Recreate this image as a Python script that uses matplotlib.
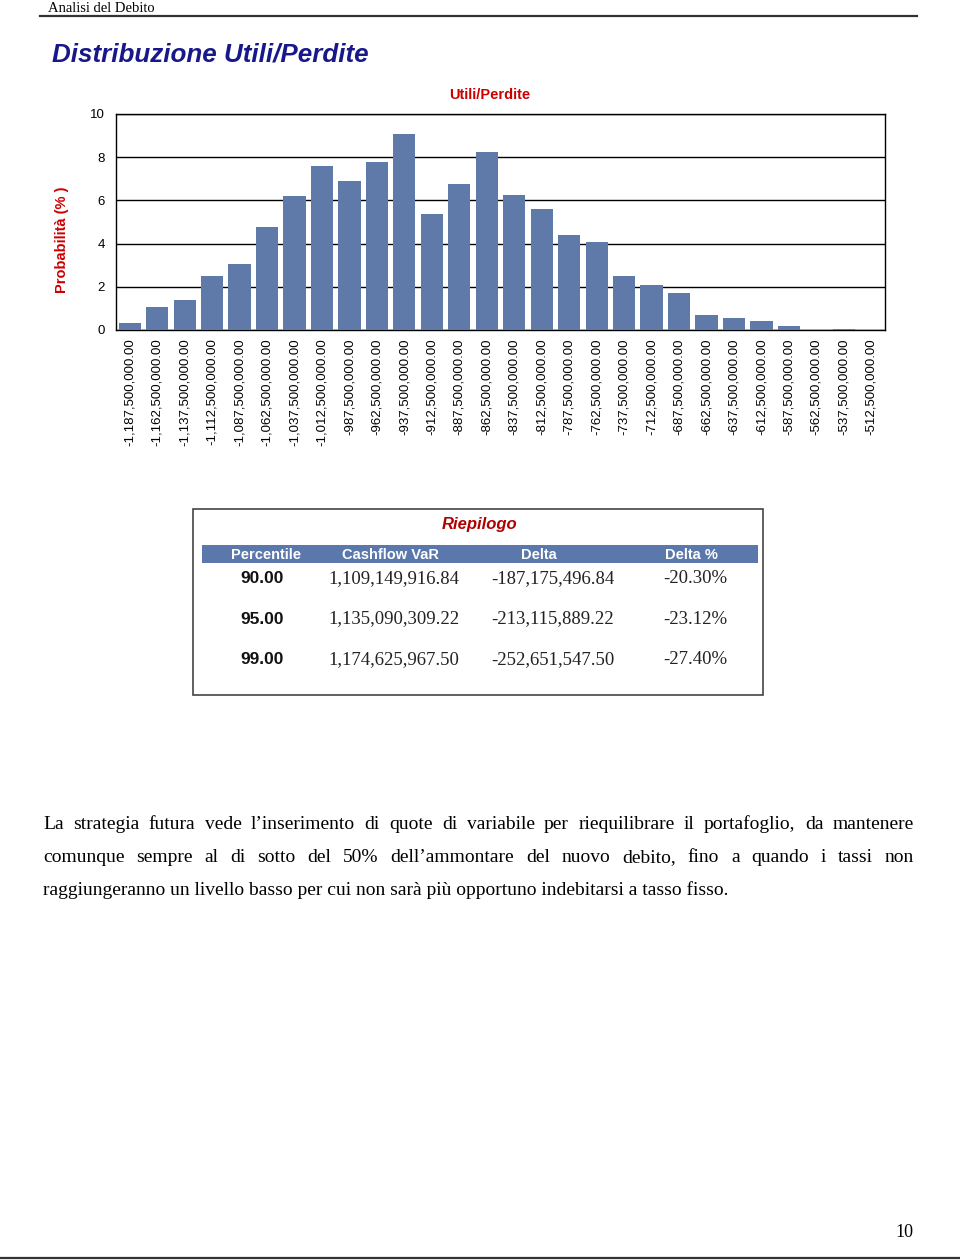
import matplotlib
matplotlib.use('Agg')
import matplotlib.pyplot as plt
from matplotlib.patches import Rectangle
from matplotlib.lines import Line2D

# ---------------- data ----------------
bin_labels = ['-1,187,500,000.00', '-1,162,500,000.00', '-1,137,500,000.00', '-1,112,500,000.00',
              '-1,087,500,000.00', '-1,062,500,000.00', '-1,037,500,000.00', '-1,012,500,000.00',
              '-987,500,000.00', '-962,500,000.00', '-937,500,000.00', '-912,500,000.00',
              '-887,500,000.00', '-862,500,000.00', '-837,500,000.00', '-812,500,000.00',
              '-787,500,000.00', '-762,500,000.00', '-737,500,000.00', '-712,500,000.00',
              '-687,500,000.00', '-662,500,000.00', '-637,500,000.00', '-612,500,000.00',
              '-587,500,000.00', '-562,500,000.00', '-537,500,000.00', '-512,500,000.00']
probabilities = [0.31, 1.06, 1.40, 2.49, 3.05, 4.77, 6.22, 7.58, 6.88, 7.80, 9.09, 5.37, 6.75, 8.25,
                 6.26, 5.62, 4.38, 4.09, 2.49, 2.08, 1.69, 0.68, 0.57, 0.42, 0.17, 0.0, 0.06, 0.0]
y_ticks = [0, 2, 4, 6, 8, 10]

table_headers = ['Percentile', 'Cashflow VaR', 'Delta', 'Delta %']
percentiles = ['90.00', '95.00', '99.00']
cashflow_var = ['1,109,149,916.84', '1,135,090,309.22', '1,174,625,967.50']
delta = ['-187,175,496.84', '-213,115,889.22', '-252,651,547.50']
delta_pct = ['-20.30%', '-23.12%', '-27.40%']

body_lines = [
    "La strategia futura vede l\u2019inserimento di quote di variabile per riequilibrare il portafoglio,  da mantenere",
    "comunque sempre al di sotto del 50% dell\u2019ammontare del nuovo debito, fino a quando i tassi non",
    "raggiungeranno un livello basso per cui non sarà più opportuno indebitarsi a tasso fisso.",
]

# ---------------- layout ----------------
W, H = 960, 1260
DPI = 100
fig = plt.figure(figsize=(W / DPI, H / DPI), dpi=DPI)
fig.patch.set_facecolor('white')


def px(x, y):
    return (x / W, 1 - y / H)


SERIF = 'Liberation Serif'
SANS = 'Liberation Sans'
BAR_COLOR = '#5f7aa8'
RED = '#cc0000'

# page header
fig.text(*px(48, 12), 'Analisi del Debito', family=SERIF, fontsize=10.5, va='baseline', ha='left')
fig.add_artist(Line2D([40 / W, 917 / W], [1 - 16 / H, 1 - 16 / H], color='#333333', lw=1.6))

# heading
fig.text(*px(52, 62), 'Distribuzione Utili/Perdite', family=SANS, fontsize=18.7,
         fontweight='bold', fontstyle='italic', color='#18188a', va='baseline', ha='left')

# chart
ax = fig.add_axes([116 / W, 1 - 330 / H, 769 / W, 216 / H])
x = list(range(len(probabilities)))
ax.bar(x, probabilities, width=0.81, color=BAR_COLOR, zorder=3)
ax.set_xlim(-0.5, len(probabilities) - 0.5)
ax.set_ylim(0, 10)
ax.set_yticks(y_ticks)
ax.set_yticklabels([str(t) for t in y_ticks], family=SANS, fontsize=9.5)
ax.set_xticks(x)
ax.set_xticklabels(bin_labels, rotation=90, family=SANS, fontsize=9.5, va='top', ha='center')
ax.tick_params(axis='y', length=0, pad=8)
ax.tick_params(axis='x', length=0, pad=6)
ax.yaxis.grid(True, color='black', lw=1.0)
ax.set_axisbelow(True)
for s in ax.spines.values():
    s.set_color('black')
    s.set_linewidth(1.0)
ax.set_ylabel('Probabilità (% )', family=SANS, fontsize=10.5, fontweight='bold', color=RED)
ax.yaxis.set_label_coords((69 - 116) / 769, (330 - 240) / 216)
fig.text(*px(490, 95), 'Utili/Perdite', family=SANS, fontsize=10.5, fontweight='bold',
         color=RED, ha='center', va='center')

# summary table
fig.add_artist(Rectangle(px(193, 695), 570 / W, 186 / H, transform=fig.transFigure,
                         facecolor='white', edgecolor='#444444', lw=1.2))
fig.add_artist(Rectangle(px(202, 563), 556 / W, 18 / H, transform=fig.transFigure,
                         facecolor='#5b78ac', edgecolor='none'))
fig.text(*px(480, 524), 'Riepilogo', family=SANS, fontsize=12, fontweight='bold',
         fontstyle='italic', color='#b00000', ha='center', va='center')
col_x = [266, 390, 539, 691]
for cx, h in zip(col_x, table_headers):
    fig.text(*px(cx, 555), h, family=SANS, fontsize=10.5, fontweight='bold', color='white',
             ha='center', va='center')
row_y = [579, 619, 660]
val_x = [262, 394, 553, 695]
for i, ry in enumerate(row_y):
    fig.text(*px(val_x[0], ry), percentiles[i], family=SANS, fontsize=12.5, fontweight='bold',
             ha='center', va='center', color='#111111')
    fig.text(*px(val_x[1], ry), cashflow_var[i], family=SERIF, fontsize=13.5,
             ha='center', va='center', color='#222222')
    fig.text(*px(val_x[2], ry), delta[i], family=SERIF, fontsize=13.5,
             ha='center', va='center', color='#222222')
    fig.text(*px(val_x[3], ry), delta_pct[i], family=SERIF, fontsize=13.5,
             ha='center', va='center', color='#222222')

# body text (justified)
renderer = fig.canvas.get_renderer()
BODY_SIZE = 14


def justify(line, x0, x1, ybase):
    words = line.split()
    texts, widths = [], []
    for w in words:
        t = fig.text(0, 0, w, family=SERIF, fontsize=BODY_SIZE, va='baseline', ha='left')
        widths.append(t.get_window_extent(renderer).width)
        texts.append(t)
    gap = (x1 - x0 - sum(widths)) / (len(words) - 1)
    xx = x0
    for t, wd in zip(texts, widths):
        t.set_position(px(xx, ybase))
        xx += wd + gap


baselines = [829, 862, 895]
justify(body_lines[0], 43, 914, baselines[0])
justify(body_lines[1], 43, 914, baselines[1])
fig.text(*px(43, baselines[2]), body_lines[2], family=SERIF, fontsize=BODY_SIZE,
         va='baseline', ha='left')

# page number and footer line
fig.text(*px(913, 1237), '10', family=SERIF, fontsize=13, va='baseline', ha='right')
fig.add_artist(Line2D([0, 1], [1 - 1258 / H, 1 - 1258 / H], color='#333333', lw=1.6))

fig.savefig('out.png', dpi=DPI, facecolor='white')
